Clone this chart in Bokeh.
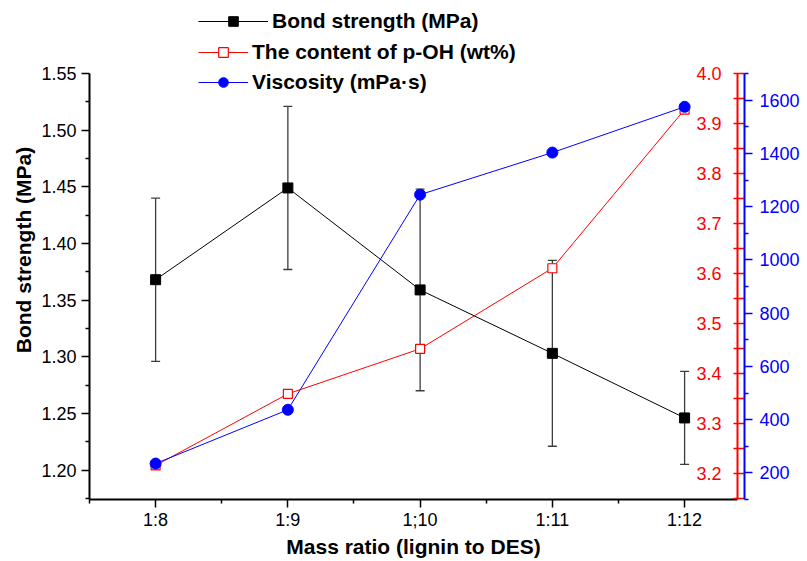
from bokeh.plotting import figure
from bokeh.models import (Range1d, LinearAxis, FixedTicker, Whisker, TeeHead,
                          ColumnDataSource, Legend, LegendItem, Label,
                          NumeralTickFormatter)
from bokeh.embed import file_html
from bokeh.resources import INLINE

# ---------------- data ----------------
ratio_pos = [8, 9, 10, 11, 12]
ratio_labels = ["1:8", "1:9", "1;10", "1:11", "1:12"]
ratio_minor = [7.5, 8.5, 9.5, 10.5, 11.5]

bond_strength = [1.368, 1.449, 1.359, 1.303, 1.246]
bond_err = [0.072, 0.072, 0.089, 0.082, 0.041]
poh_content = [3.217, 3.360, 3.450, 3.611, 3.928]
viscosity = [235, 437, 1245, 1403, 1575]

bond_ticks = [1.20, 1.25, 1.30, 1.35, 1.40, 1.45, 1.50, 1.55]
bond_minor = [1.175, 1.225, 1.275, 1.325, 1.375, 1.425, 1.475, 1.525]
poh_ticks = [3.2, 3.3, 3.4, 3.5, 3.6, 3.7, 3.8, 3.9, 4.0]
poh_minor = [3.15, 3.25, 3.35, 3.45, 3.55, 3.65, 3.75, 3.85, 3.95]
visc_ticks = [200, 400, 600, 800, 1000, 1200, 1400, 1600]
visc_minor = [100, 300, 500, 700, 900, 1100, 1300, 1500, 1700]

# visible axis extents
bond_lim = (1.174, 1.55)
poh_lim = (3.149, 4.0)
visc_lim = (100, 1700)

FONT = "Liberation Sans"
RED = "#ff0000"
BLUE = "#0000ff"
INK = "#000000"

# layout: the frame reaches to the top of the page so that the legend is not
# clipped; axes are bounded to their visible extents.
FRAME_BOTTOM = 499          # px from page top
AXIS_TOP = 73               # px from page top where the y axes end
H = 561
axis_px = FRAME_BOTTOM - AXIS_TOP


def extend(lim):
    lo, hi = lim
    return Range1d(lo, hi + (hi - lo) * AXIS_TOP / axis_px)


p = figure(width=807, height=H, output_backend="svg", toolbar_location=None,
           x_range=Range1d(7.5, 12.4), y_range=extend(bond_lim),
           min_border_left=89, min_border_right=70, min_border_top=0,
           min_border_bottom=H - FRAME_BOTTOM)
p.extra_y_ranges = {"poh": extend(poh_lim), "visc": extend(visc_lim)}
p.grid.visible = False
p.outline_line_color = None
p.background_fill_color = "white"
p.border_fill_color = "white"

# ---------------- bottom axis ----------------
xa = p.xaxis[0]
xa.ticker = FixedTicker(ticks=ratio_pos, minor_ticks=ratio_minor)
xa.major_label_overrides = {k: v for k, v in zip(ratio_pos, ratio_labels)}
xa.axis_label = "Mass ratio (lignin to DES)"
xa.axis_label_text_font = FONT
xa.axis_label_text_font_style = "bold"
xa.axis_label_text_font_size = "21px"
xa.axis_label_text_color = INK
xa.axis_label_standoff = 2
xa.major_label_text_font = FONT
xa.major_label_text_font_size = "18px"
xa.major_label_text_color = INK
xa.major_label_standoff = 2
xa.axis_line_width = 2
xa.axis_line_color = INK
xa.major_tick_line_color = INK
xa.minor_tick_line_color = INK
xa.major_tick_out = 8
xa.major_tick_in = 0
xa.minor_tick_out = 4
xa.minor_tick_in = 0
xa.major_tick_line_width = 1.5
xa.minor_tick_line_width = 1.5

# ---------------- left axis ----------------
ya = p.yaxis[0]
ya.bounds = bond_lim
ya.ticker = FixedTicker(ticks=bond_ticks, minor_ticks=bond_minor)
ya.formatter = NumeralTickFormatter(format="0.00")
ya.axis_label = "Bond strength (MPa)"
ya.axis_label_text_font = FONT
ya.axis_label_text_font_style = "bold"
ya.axis_label_text_font_size = "21px"
ya.axis_label_text_color = INK
ya.axis_label_standoff = 3
ya.major_label_text_font = FONT
ya.major_label_text_font_size = "18px"
ya.major_label_text_color = INK
ya.major_label_standoff = 5
ya.axis_line_width = 2
ya.axis_line_color = INK
ya.major_tick_line_color = INK
ya.minor_tick_line_color = INK
ya.major_tick_out = 8
ya.major_tick_in = 0
ya.minor_tick_out = 4
ya.minor_tick_in = 0
ya.major_tick_line_width = 1.5
ya.minor_tick_line_width = 1.5

# ---------------- right axes ----------------
# red axis: its tick labels are drawn on the inner side (see Labels below)
ax_poh = LinearAxis(y_range_name="poh", bounds=poh_lim,
                    ticker=FixedTicker(ticks=[], minor_ticks=poh_ticks + poh_minor),
                    axis_line_color=RED, axis_line_width=2,
                    major_tick_line_color=RED, minor_tick_line_color=RED,
                    major_tick_line_width=1.5, minor_tick_line_width=1.5,
                    major_tick_out=8, major_tick_in=0,
                    minor_tick_out=7, minor_tick_in=4,
                    major_label_standoff=5)
p.add_layout(ax_poh, "right")

ax_visc = LinearAxis(y_range_name="visc", bounds=visc_lim,
                     ticker=FixedTicker(ticks=visc_ticks, minor_ticks=visc_minor),
                     axis_line_color=BLUE, axis_line_width=2,
                     major_tick_line_color=BLUE, minor_tick_line_color=BLUE,
                     major_tick_line_width=1.5, minor_tick_line_width=1.5,
                     major_tick_out=8, major_tick_in=0,
                     minor_tick_out=4, minor_tick_in=0,
                     major_label_text_color=BLUE,
                     major_label_text_font=FONT,
                     major_label_text_font_size="18px",
                     major_label_standoff=7)
p.add_layout(ax_visc, "right")

for v in poh_ticks:
    p.add_layout(Label(x=p.x_range.end, y=v, text=f"{v:.1f}",
                       y_range_name="poh", x_offset=-16,
                       text_align="right", text_baseline="middle",
                       text_color=RED, text_font=FONT, text_font_size="18px"))

# ---------------- error bars ----------------
err_src = ColumnDataSource(dict(
    x=ratio_pos,
    upper=[b + e for b, e in zip(bond_strength, bond_err)],
    lower=[b - e for b, e in zip(bond_strength, bond_err)]))
ERR = "#3c3c3c"
p.add_layout(Whisker(base="x", upper="upper", lower="lower", source=err_src,
                     line_color=ERR, line_width=1.3,
                     upper_head=TeeHead(size=9, line_color=ERR, line_width=1.3),
                     lower_head=TeeHead(size=9, line_color=ERR, line_width=1.3)))

# ---------------- series ----------------
bl = p.line(ratio_pos, bond_strength, line_color="black", line_width=1)
bs = p.scatter(ratio_pos, bond_strength, marker="square", size=10,
               fill_color="black", line_color="black")

rl = p.line(ratio_pos, poh_content, line_color=RED, line_width=1,
            y_range_name="poh")
rs = p.scatter(ratio_pos, poh_content, marker="square", size=9,
               fill_color="white", line_color=RED, line_width=1.2,
               y_range_name="poh")

vl = p.line(ratio_pos, viscosity, line_color=BLUE, line_width=1,
            y_range_name="visc")
vs = p.scatter(ratio_pos, viscosity, marker="circle", size=11,
               fill_color=BLUE, line_color=BLUE, y_range_name="visc")

# ---------------- legends ----------------
common = dict(padding=0, margin=0, border_line_color=None,
              background_fill_alpha=0, label_text_font=FONT,
              label_text_font_style="bold", label_text_font_size="21px",
              label_text_color=INK,
              label_standoff=4, glyph_height=24, label_height=24, spacing=6)

leg1 = Legend(items=[LegendItem(label="Bond strength (MPa)", renderers=[bl, bs])],
              location=(109, 466), glyph_width=70, **common)
leg2 = Legend(items=[LegendItem(label="The content of p-OH (wt%)", renderers=[rl, rs]),
                     LegendItem(label="Viscosity (mPa\u00b7s)", renderers=[vl, vs])],
              location=(109, 405), glyph_width=50, **common)
p.add_layout(leg1)
p.add_layout(leg2)

open("out.html", "w").write(file_html(p, INLINE))
